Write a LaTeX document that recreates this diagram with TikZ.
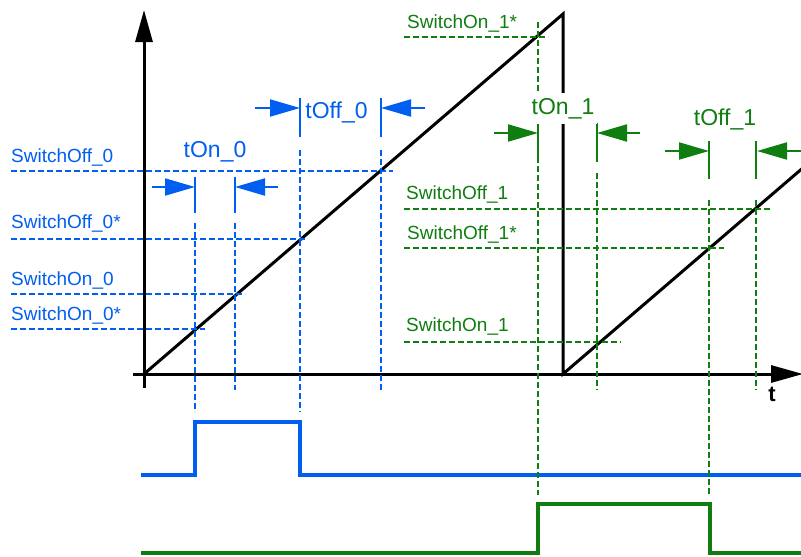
\documentclass[tikz,border=0pt]{standalone}
\usepackage{fontspec}
\setmainfont{Liberation Sans}
\usetikzlibrary{arrows.meta}
\definecolor{cb}{RGB}{0,94,240}
\definecolor{cg}{RGB}{15,125,15}
\begin{document}
\begin{tikzpicture}[x=1pt,y=-1pt,
 axis/.style={line width=3pt, -{Triangle[length=32pt,width=17pt]}},
 ramp/.style={line width=3pt, line join=miter},
 lvl/.style={dash pattern=on 6pt off 3pt, line width=1.6pt},
 tickmark/.style={line width=1.6pt},
 dimarrow/.style={line width=2pt, -{Triangle[length=30pt,width=17pt]}},
 lbl/.style={font=\fontsize{19}{22}\selectfont, anchor=base west, inner sep=0pt},
 dimlbl/.style={font=\fontsize{23}{26}\selectfont, anchor=base, inner sep=0pt},
 pulse/.style={line width=4.5pt, line join=miter}]
\useasboundingbox (0,0) rectangle (801,557);

% axes
\coordinate (ybot) at (144,388); \coordinate (ytop) at (144,10);
\coordinate (xl) at (133,374); \coordinate (xr) at (803,374);
\draw[axis] (ybot) -- (ytop);
\draw[axis] (xl) -- (xr);
\node[font=\bfseries\fontsize{22}{24}\selectfont, anchor=base] (tlabel) at (772,401) {t};

% ramp
\coordinate (o) at (144,374); \coordinate (peak) at (563,14);
\coordinate (drop) at (563,374); \coordinate (rend) at (810,161.8);
\draw[ramp] (o) -- (peak) -- (drop) -- (rend);

% ---------- blue ----------
\begin{scope}[cb]
\draw[lvl] (11,171) -- (393,171);
\draw[lvl] (11,239) -- (307,239);
\draw[lvl] (11,294) -- (245,294);
\draw[lvl] (11,329) -- (205,329);
\node[lbl] (soff0) at (11,162) {SwitchOff\_0};
\node[lbl] (soff0s) at (11,228) {SwitchOff\_0*};
\node[lbl] (son0) at (11,285) {SwitchOn\_0};
\node[lbl] (son0s) at (11,320) {SwitchOn\_0*};
% verticals
\draw[tickmark] (195,177) -- (195,213);
\draw[tickmark] (235,177) -- (235,213);
\draw[tickmark] (300,98) -- (300,137);
\draw[tickmark] (381,98) -- (381,137);
\draw[lvl] (195,223) -- (195,412);
\draw[lvl] (235,223) -- (235,390);
\draw[lvl] (300,150) -- (300,412);
\draw[lvl] (381,150) -- (381,390);
% dimension arrows
\draw[dimarrow] (152,187) -- (195,187);
\draw[dimarrow] (278,187) -- (235,187);
\draw[dimarrow] (255,108) -- (300,108);
\draw[dimarrow] (425,108) -- (381,108);
\node[dimlbl] (ton0) at (215,157) {tOn\_0};
\node[dimlbl] (toff0) at (336.5,118) {tOff\_0};
% pulse
\draw[pulse] (141,475) -- (195,475) -- (195,422) -- (300,422) -- (300,475) -- (805,475);
\end{scope}

% ---------- green ----------
\begin{scope}[cg]
\draw[lvl] (404,37) -- (548,37);
\draw[lvl] (404,209) -- (770,209);
\draw[lvl] (404,248) -- (724,248);
\draw[lvl] (404,342) -- (621,342);
\node[lbl] (son1s) at (407,28) {SwitchOn\_1*};
\node[lbl] (soff1) at (406,199) {SwitchOff\_1};
\node[lbl] (soff1s) at (407,239) {SwitchOff\_1*};
\node[lbl] (son1) at (406,331) {SwitchOn\_1};
% verticals
\draw[lvl] (538,22) -- (538,495);
\draw[tickmark] (538,123) -- (538,162);
\draw[tickmark] (597,123) -- (597,162);
\draw[lvl] (597,173) -- (597,390);
\draw[tickmark] (709,141) -- (709,179);
\draw[tickmark] (756,141) -- (756,179);
\draw[lvl] (709,200) -- (709,495);
\draw[lvl] (756,200) -- (756,390);
% dimension arrows
\draw[dimarrow] (494,133) -- (538,133);
\draw[dimarrow] (640,133) -- (597,133);
\draw[dimarrow] (665,151) -- (709,151);
\draw[dimarrow] (801,151) -- (757,151);
\node[dimlbl, fill=white, inner xsep=3pt, inner ysep=5pt] (ton1) at (563,114) {tOn\_1};
\node[dimlbl] (toff1) at (725,125) {tOff\_1};
% pulse
\draw[pulse] (141,553) -- (538,553) -- (538,504) -- (710,504) -- (710,553) -- (805,553);
\end{scope}
\end{tikzpicture}
\end{document}
